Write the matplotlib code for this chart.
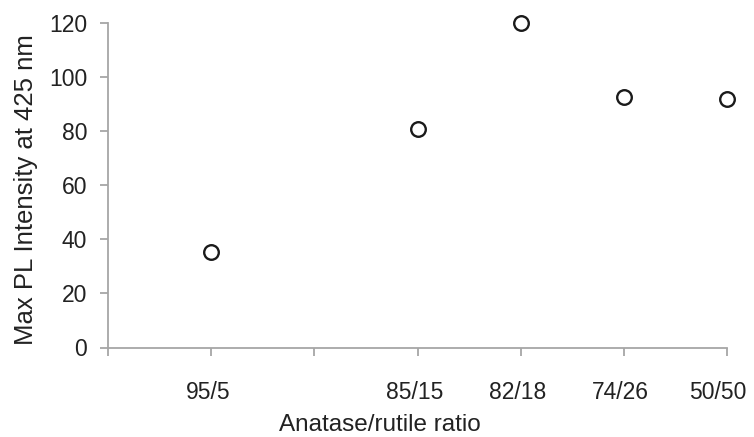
import matplotlib
matplotlib.use("Agg")
import matplotlib.pyplot as plt
from matplotlib.transforms import ScaledTranslation

categories = ["", "95/5", "", "85/15", "82/18", "74/26", "50/50"]
point_labels = ["95/5", "85/15", "82/18", "74/26", "50/50"]
intensity = [35.2, 80.9, 120.0, 92.8, 91.9]
yticks = [0, 20, 40, 60, 80, 100, 120]

plt.rcParams['font.family'] = ['Liberation Sans', 'DejaVu Sans']

fig = plt.figure(figsize=(7.54, 4.37), dpi=100)
ax = fig.add_axes([108/754, 1-347.5/437, (727-108)/754, (347.5-23.3)/437])

xpos = [categories.index(l) for l in point_labels]
ax.plot(xpos, intensity, linestyle='none', marker='o', ms=10.5, mfc='white',
        mec='#1a1a1a', mew=1.7, clip_on=False, zorder=5)

ax.set_xlim(0, len(categories) - 1)
ax.set_ylim(0, 120)
ax.set_xticks(range(len(categories)))
ax.set_xticklabels(categories)
ax.set_yticks(yticks)

for s in ['top', 'right']:
    ax.spines[s].set_visible(False)
for s in ['left', 'bottom']:
    ax.spines[s].set_color('#a6a6a6')
    ax.spines[s].set_linewidth(1.3)

ax.tick_params(axis='both', colors='#a6a6a6', labelcolor='#222222',
               labelsize=16.5, width=1.3, length=6)
ax.tick_params(axis='x', pad=18)
ax.tick_params(axis='y', pad=9)

# shift x tick labels slightly left (last one kept inside the figure)
labels = ax.get_xticklabels()
for i, lab in enumerate(labels):
    dx = -9 if i == len(labels) - 1 else -3
    lab.set_transform(lab.get_transform() + ScaledTranslation(dx / 100, 0, fig.dpi_scale_trans))

ax.set_xlabel("Anatase/rutile ratio", fontsize=17.5, color='#222222')
ax.xaxis.set_label_coords(0.44, -0.205)
ax.set_ylabel("Max PL Intensity at 425 nm", fontsize=18.5, color='#222222')
ax.yaxis.set_label_coords(-0.113, 0.487)

fig.savefig("out.png", dpi=100)
